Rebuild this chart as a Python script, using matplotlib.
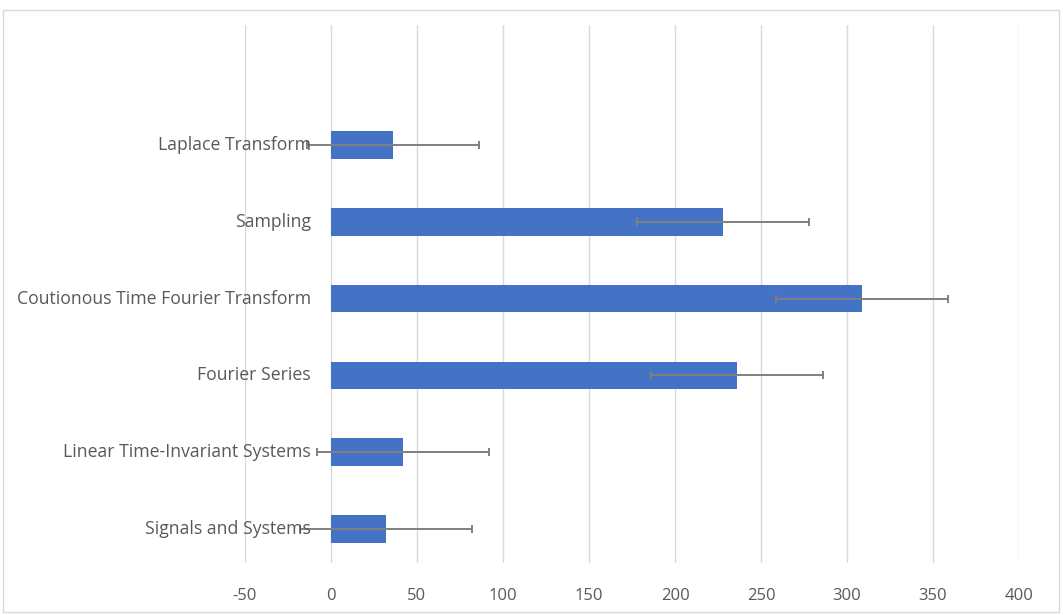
import matplotlib.pyplot as plt
import matplotlib.transforms as mtransforms
from matplotlib.patches import Rectangle

topics = ["Signals and Systems", "Linear Time-Invariant Systems", "Fourier Series",
          "Coutionous Time Fourier Transform", "Sampling", "Laplace Transform"]
values = [32, 42, 236, 309, 228, 36]
errors = [50, 50, 50, 50, 50, 50]
xticks = [-50, 0, 50, 100, 150, 200, 250, 300, 350, 400]

plt.rcParams['font.family'] = ['Open Sans', 'DejaVu Sans']
txt = '#595959'

fig = plt.figure(figsize=(10.63, 6.15), dpi=100)
ax = fig.add_axes([245 / 1063, 1 - 563 / 615, (1019 - 245) / 1063, (563 - 25) / 615])

pos = list(range(len(topics)))
ax.barh(pos, values, height=0.36, color='#4472C4', zorder=2)
ax.errorbar(values, pos, xerr=errors, fmt='none', ecolor='#808080',
            elinewidth=1.4, capsize=3, capthick=1.4, zorder=3)

ax.set_xlim(-50, 400)
ax.set_ylim(-0.44, 6.56)
ax.set_xticks(xticks)
ax.set_xticklabels([str(t) for t in xticks], color=txt, fontsize=12)
ax.tick_params(axis='x', length=0, pad=18)
ax.set_yticks([])
ax.grid(axis='x', color='#d9d9d9', linewidth=1, zorder=0)
for s in ax.spines.values():
    s.set_visible(False)

# category labels sit next to the value-0 axis, as in Excel
lab_tr = mtransforms.offset_copy(ax.transData, fig=fig, x=-20, y=0, units='dots')
for p, t in zip(pos, topics):
    ax.text(0, p, t, transform=lab_tr, ha='right', va='center', fontsize=12.7, color=txt, zorder=4)

fig.patches.append(Rectangle((3 / 1063, 3 / 615), 1056 / 1063, 602 / 615, transform=fig.transFigure,
                             fill=False, edgecolor='#d9d9d9', linewidth=1))

fig.savefig('out.png', dpi=100)
